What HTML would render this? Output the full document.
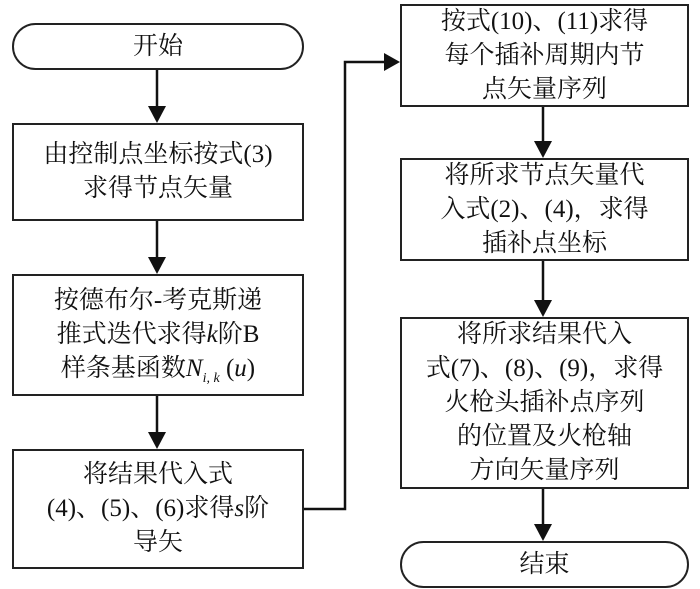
<!DOCTYPE html>
<html><head><meta charset="utf-8"><style>
html,body{margin:0;padding:0;background:#fff;}
body{width:700px;height:589px;position:relative;overflow:hidden;font-family:"Liberation Serif","Noto Serif CJK SC",serif;color:#111;}
.b{position:absolute;border:2px solid #222;box-sizing:border-box;display:flex;align-items:center;justify-content:center;text-align:center;font-size:25px;line-height:34px;}
.b>div{display:block;}
.o{border-radius:24px;}
svg{position:absolute;left:0;top:0;}
i{font-style:italic;}
sub{line-height:0;}
</style></head><body>
<svg width="700" height="589">
<g stroke="#111" stroke-width="2.5" fill="none">
<line x1="157" y1="69" x2="157" y2="108"/>
<line x1="157" y1="220" x2="157" y2="259"/>
<line x1="157" y1="395" x2="157" y2="434"/>
<polyline points="303,509 345,509 345,62 386,62"/>
<line x1="543" y1="106" x2="543" y2="143"/>
<line x1="543" y1="260" x2="543" y2="302"/>
<line x1="543" y1="488" x2="543" y2="526"/>
</g>
<g fill="#111">
<polygon points="148,106 166,106 157,123"/>
<polygon points="148,257 166,257 157,274"/>
<polygon points="148,432 166,432 157,449"/>
<polygon points="384,53 384,71 400,62"/>
<polygon points="534,141 552,141 543,158"/>
<polygon points="534,300 552,300 543,317"/>
<polygon points="534,524 552,524 543,541"/>
</g>
</svg>
<div class="b o" style="left:12px;top:23px;width:292px;height:47px;"><div>开始</div></div>
<div class="b" style="left:12px;top:123px;width:292px;height:98px;"><div>由控制点坐标按式(3)<br>求得节点矢量</div></div>
<div class="b" style="left:12px;top:274px;width:292px;height:122px;"><div>按德布尔-考克斯递<br>推式迭代求得<i>k</i>阶B<br>样条基函数<i>N</i><sub style="font-size:14px;font-style:italic;">i, k</sub>&nbsp;(<i>u</i>)</div></div>
<div class="b" style="left:12px;top:449px;width:292px;height:120px;"><div>将结果代入式<br>(4)、(5)、(6)求得<i>s</i>阶<br>导矢</div></div>
<div class="b" style="left:400px;top:4px;width:289px;height:103px;"><div>按式(10)、(11)求得<br>每个插补周期内节<br>点矢量序列</div></div>
<div class="b" style="left:400px;top:158px;width:289px;height:103px;"><div>将所求节点矢量代<br>入式(2)、(4)，求得<br>插补点坐标</div></div>
<div class="b" style="left:400px;top:317px;width:289px;height:172px;"><div>将所求结果代入<br>式(7)、(8)、(9)，求得<br>火枪头插补点序列<br>的位置及火枪轴<br>方向矢量序列</div></div>
<div class="b o" style="left:400px;top:541px;width:289px;height:47px;"><div>结束</div></div>
</body></html>
